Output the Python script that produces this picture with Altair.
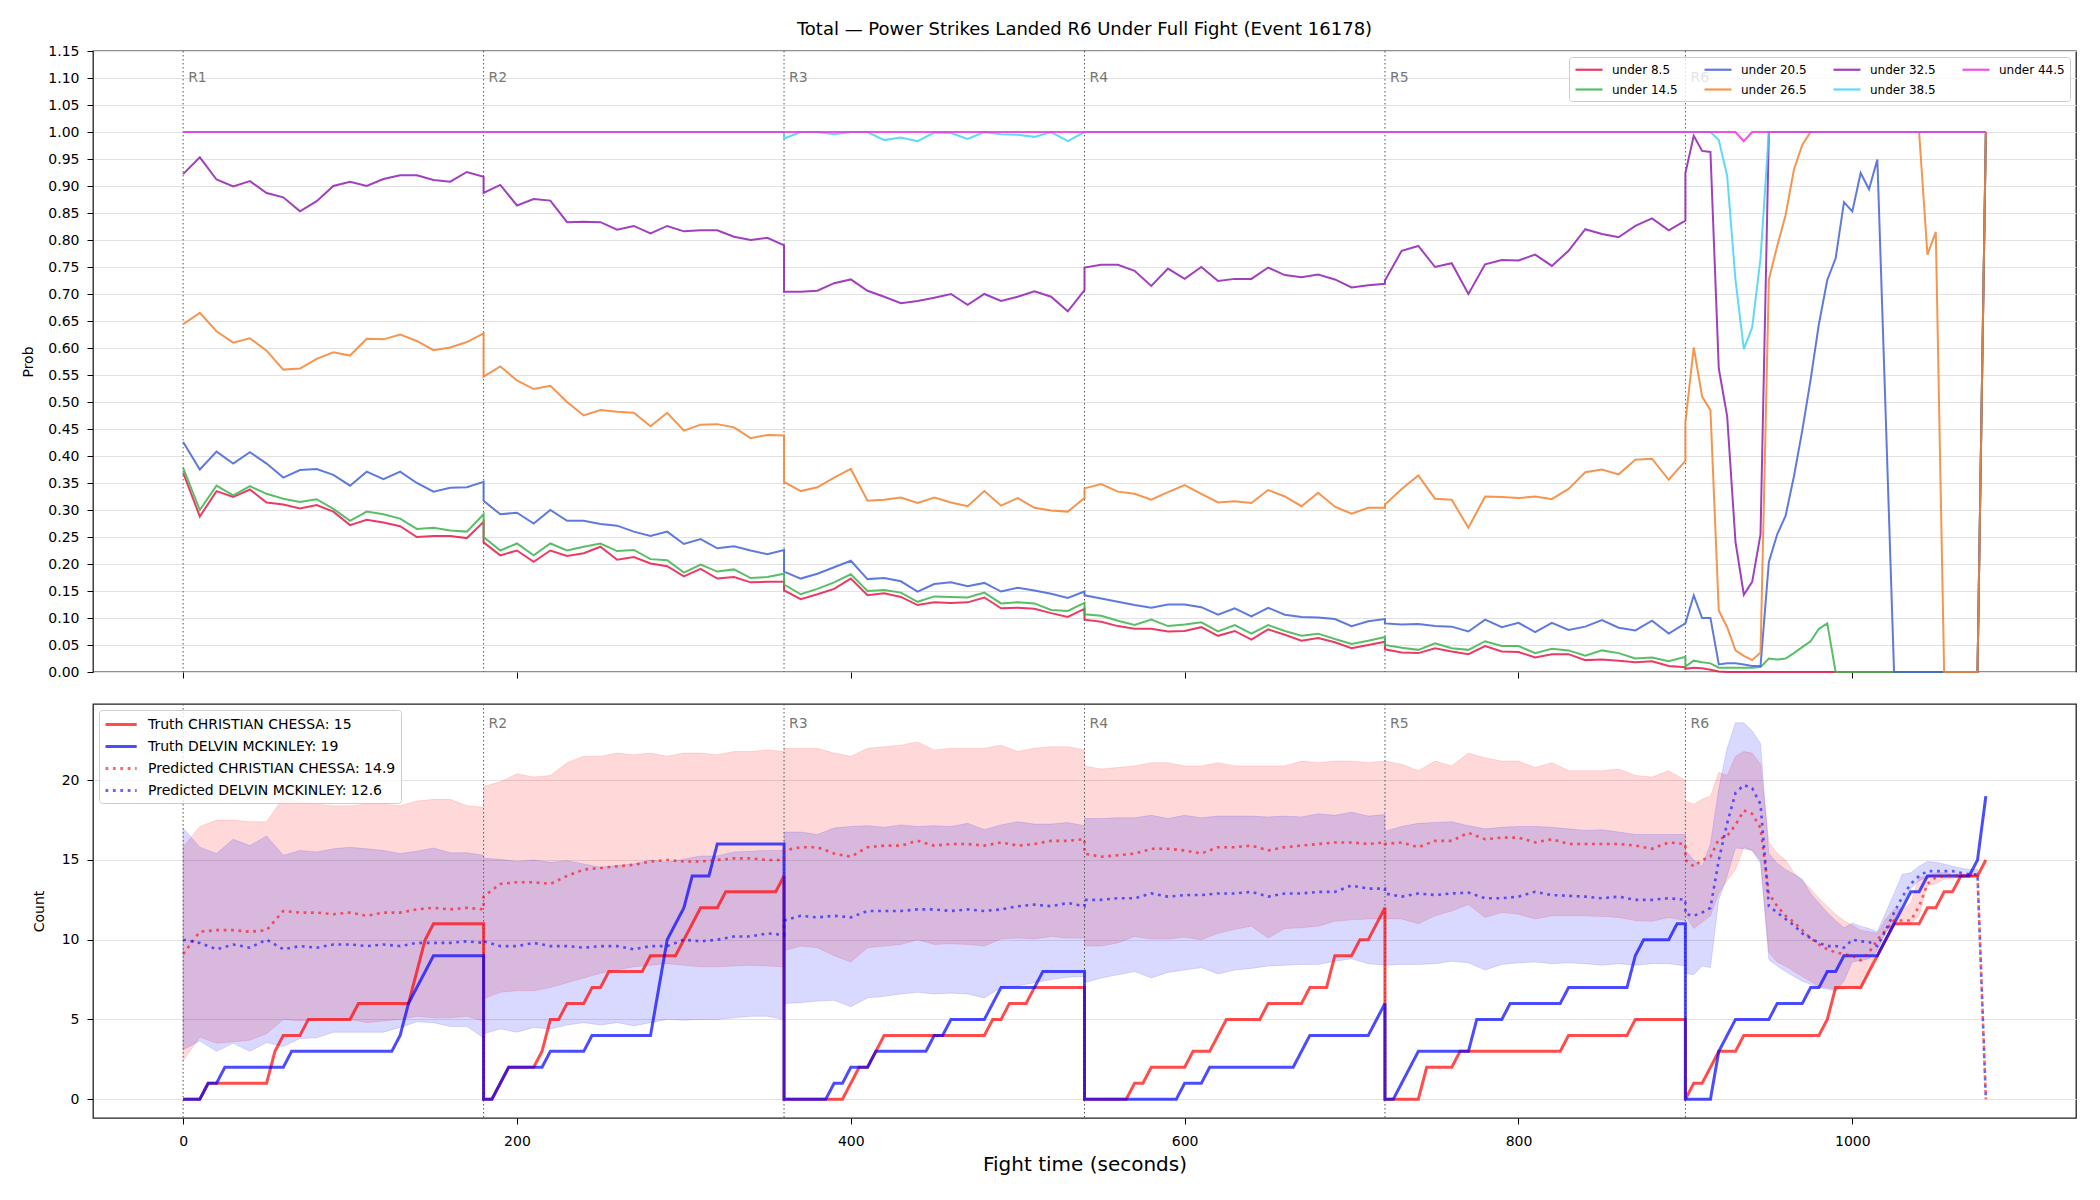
import altair as alt
import pandas as pd

TITLE = "Total \u2014 Power Strikes Landed R6 Under Full Fight (Event 16178)"
FIGHTERS = ["CHRISTIAN CHESSA", "DELVIN MCKINLEY"]
PRED_FINAL = [14.9, 12.6]

ROUND_NAMES = ["R1", "R2", "R3", "R4", "R5", "R6"]
ROUND_STARTS = [0, 180, 360, 540, 720, 900]

# sample offsets inside a round (seconds)
OFFSETS_10 = [0, 10, 20, 30, 40, 50, 60, 70, 80, 90, 100, 110, 120, 130, 140, 150, 160, 170, 180]
OFFSETS_5 = [0, 5, 10, 15, 20, 25, 30, 35, 40, 45, 50, 55, 60, 65, 70, 75, 80, 85, 90, 95, 100,
             105, 110, 115, 120, 125, 130, 135, 140, 145, 150, 155, 160, 165, 170, 175, 180]

# rounds 1-5 every 10 s, round 6 every 5 s
PROB_GRID = [OFFSETS_10] * 5 + [OFFSETS_5]
TRUTH_GRID = [OFFSETS_5] * 6
BAND_GRID = [OFFSETS_10] * 5 + [OFFSETS_5[:-1]]

PROB_TICKS = [0.0, 0.05, 0.1, 0.15, 0.2, 0.25, 0.3, 0.35, 0.4, 0.45, 0.5, 0.55, 0.6, 0.65, 0.7,
              0.75, 0.8, 0.85, 0.9, 0.95, 1.0, 1.05, 1.1, 1.15]
COUNT_TICKS = [0, 5, 10, 15, 20]
X_TICKS = [0, 200, 400, 600, 800, 1000]

# ---- P(total under line), one list per round ----
UNDER_8_5 = [
    [0.369, 0.288, 0.335, 0.324, 0.338, 0.314, 0.310, 0.303, 0.309, 0.297, 0.272, 0.282, 0.277, 0.270, 0.250, 0.252, 0.252, 0.248, 0.278],
    [0.240, 0.216, 0.225, 0.204, 0.225, 0.215, 0.220, 0.232, 0.208, 0.213, 0.201, 0.196, 0.177, 0.191, 0.173, 0.176, 0.166, 0.167, 0.167],
    [0.151, 0.135, 0.144, 0.154, 0.173, 0.142, 0.146, 0.139, 0.124, 0.129, 0.128, 0.129, 0.138, 0.118, 0.119, 0.117, 0.109, 0.102, 0.117],
    [0.097, 0.093, 0.085, 0.080, 0.080, 0.075, 0.076, 0.083, 0.067, 0.076, 0.060, 0.079, 0.069, 0.058, 0.063, 0.055, 0.044, 0.050, 0.056],
    [0.042, 0.036, 0.035, 0.044, 0.038, 0.033, 0.048, 0.038, 0.037, 0.027, 0.033, 0.033, 0.022, 0.023, 0.021, 0.018, 0.020, 0.011, 0.009],
    [0.006, 0.008, 0.007, 0.004, 0.001] + [0.0] * 31 + [1.0],
]
UNDER_14_5 = [
    [0.378, 0.300, 0.345, 0.327, 0.344, 0.330, 0.321, 0.315, 0.320, 0.302, 0.280, 0.297, 0.292, 0.284, 0.265, 0.267, 0.262, 0.260, 0.292],
    [0.250, 0.225, 0.238, 0.216, 0.238, 0.225, 0.232, 0.238, 0.224, 0.226, 0.209, 0.207, 0.184, 0.199, 0.186, 0.190, 0.174, 0.176, 0.182],
    [0.162, 0.144, 0.154, 0.166, 0.181, 0.150, 0.152, 0.147, 0.130, 0.140, 0.139, 0.138, 0.147, 0.127, 0.129, 0.127, 0.115, 0.113, 0.128],
    [0.107, 0.104, 0.095, 0.087, 0.097, 0.085, 0.088, 0.092, 0.075, 0.087, 0.071, 0.087, 0.076, 0.067, 0.071, 0.061, 0.052, 0.058, 0.065],
    [0.050, 0.045, 0.041, 0.053, 0.044, 0.041, 0.057, 0.048, 0.048, 0.035, 0.043, 0.040, 0.030, 0.040, 0.035, 0.025, 0.027, 0.020, 0.028],
    [0.010, 0.021, 0.018, 0.016, 0.008, 0.008, 0.008, 0.008, 0.008, 0.009, 0.025, 0.023, 0.025, 0.035, 0.046, 0.057, 0.080, 0.090]
    + [0.0] * 18 + [1.0],
]
UNDER_20_5 = [
    [0.426, 0.375, 0.408, 0.386, 0.407, 0.386, 0.360, 0.374, 0.376, 0.365, 0.345, 0.371, 0.357, 0.371, 0.350, 0.334, 0.341, 0.342, 0.352],
    [0.317, 0.292, 0.295, 0.275, 0.300, 0.280, 0.280, 0.274, 0.271, 0.260, 0.252, 0.260, 0.237, 0.246, 0.229, 0.233, 0.225, 0.218, 0.226],
    [0.186, 0.173, 0.182, 0.194, 0.206, 0.172, 0.174, 0.168, 0.149, 0.163, 0.166, 0.159, 0.165, 0.149, 0.156, 0.151, 0.145, 0.137, 0.149],
    [0.142, 0.136, 0.130, 0.124, 0.119, 0.125, 0.125, 0.120, 0.106, 0.118, 0.103, 0.119, 0.106, 0.102, 0.101, 0.098, 0.085, 0.094, 0.098],
    [0.090, 0.088, 0.089, 0.085, 0.084, 0.075, 0.097, 0.083, 0.091, 0.074, 0.091, 0.078, 0.084, 0.096, 0.082, 0.077, 0.095, 0.071, 0.090],
    [0.090, 0.142, 0.100, 0.100, 0.014, 0.016, 0.016, 0.014, 0.011, 0.011, 0.204, 0.255, 0.289, 0.362, 0.447, 0.541,
     0.645, 0.726, 0.766, 0.870, 0.853, 0.924, 0.894, 0.949, 0.475] + [0.0] * 11 + [1.0],
]
UNDER_26_5 = [
    [0.644, 0.665, 0.631, 0.610, 0.618, 0.595, 0.560, 0.562, 0.580, 0.592, 0.586, 0.617, 0.616, 0.625, 0.613, 0.596, 0.601, 0.611, 0.627],
    [0.547, 0.566, 0.540, 0.524, 0.530, 0.500, 0.475, 0.485, 0.482, 0.480, 0.455, 0.480, 0.447, 0.458, 0.459, 0.453, 0.433, 0.439, 0.438],
    [0.352, 0.335, 0.342, 0.360, 0.376, 0.317, 0.319, 0.323, 0.313, 0.323, 0.314, 0.307, 0.335, 0.308, 0.322, 0.304, 0.299, 0.297, 0.322],
    [0.340, 0.348, 0.334, 0.330, 0.319, 0.333, 0.346, 0.330, 0.314, 0.316, 0.313, 0.337, 0.325, 0.307, 0.332, 0.306, 0.293, 0.304, 0.304],
    [0.310, 0.339, 0.364, 0.321, 0.319, 0.267, 0.325, 0.324, 0.322, 0.325, 0.320, 0.339, 0.370, 0.375, 0.366, 0.393, 0.395, 0.356, 0.391],
    [0.463, 0.601, 0.510, 0.485, 0.114, 0.083, 0.040, 0.030, 0.022, 0.036, 0.727, 0.789, 0.846, 0.930, 0.976]
    + [1.0] * 14 + [0.773, 0.815] + [0.0] * 5 + [1.0],
]
UNDER_32_5 = [
    [0.922, 0.953, 0.912, 0.899, 0.909, 0.887, 0.879, 0.853, 0.872, 0.900, 0.908, 0.900, 0.913, 0.920, 0.920, 0.911, 0.908, 0.926, 0.917],
    [0.887, 0.902, 0.864, 0.876, 0.873, 0.833, 0.834, 0.833, 0.819, 0.826, 0.812, 0.826, 0.816, 0.818, 0.818, 0.806, 0.800, 0.804, 0.790],
    [0.704, 0.704, 0.706, 0.720, 0.727, 0.706, 0.695, 0.683, 0.687, 0.693, 0.700, 0.680, 0.700, 0.687, 0.695, 0.705, 0.695, 0.668, 0.707],
    [0.749, 0.754, 0.754, 0.743, 0.715, 0.747, 0.728, 0.750, 0.724, 0.728, 0.728, 0.749, 0.735, 0.731, 0.736, 0.727, 0.712, 0.716, 0.719],
    [0.725, 0.780, 0.789, 0.750, 0.757, 0.700, 0.755, 0.763, 0.762, 0.773, 0.752, 0.780, 0.820, 0.811, 0.805, 0.826, 0.840, 0.818, 0.836],
    [0.924, 0.993, 0.965, 0.963, 0.562, 0.474, 0.241, 0.143, 0.167, 0.255] + [1.0] * 27,
]
UNDER_38_5 = [
    [1.0] * 19,
    [1.0] * 19,
    [0.988, 1.0, 1.0, 0.996, 1.0, 1.0, 0.985, 0.990, 0.983, 0.999, 0.998, 0.987, 1.0, 0.996, 0.995, 0.991, 1.0, 0.983, 1.0],
    [1.0] * 19,
    [1.0] * 19,
    [1.0, 1.0, 1.0, 1.0, 0.985, 0.919, 0.726, 0.598, 0.638, 0.766] + [1.0] * 27,
]
UNDER_44_5 = [
    [1.0] * 19,
    [1.0] * 19,
    [1.0] * 19,
    [1.0] * 19,
    [1.0] * 19,
    [1.0] * 7 + [0.983] + [1.0] * 29,
]

THRESHOLDS = ["under 8.5", "under 14.5", "under 20.5", "under 26.5", "under 32.5", "under 38.5", "under 44.5"]
THRESHOLD_COLORS = ["#e6194b", "#3cb44b", "#4363d8", "#f58231", "#911eb4", "#42d4f4", "#f032e6"]
PROB_SERIES = [UNDER_8_5, UNDER_14_5, UNDER_20_5, UNDER_26_5, UNDER_32_5, UNDER_38_5, UNDER_44_5]

# ---- cumulative strikes per round (truth, 5 s steps) ----
TRUTH_CHESSA = [
    [0, 0, 0, 1, 1, 1, 1, 1, 1, 1, 1, 3, 4, 4, 4, 5, 5, 5, 5, 5, 5, 6, 6, 6, 6, 6, 6, 6, 8, 10, 11, 11, 11, 11, 11, 11, 11],
    [0, 0, 1, 2, 2, 2, 2, 3, 5, 5, 6, 6, 6, 7, 7, 8, 8, 8, 8, 8, 9, 9, 9, 9, 10, 11, 12, 12, 12, 13, 13, 13, 13, 13, 13, 13, 14],
    [0, 0, 0, 0, 0, 0, 0, 0, 1, 2, 2, 3, 4, 4, 4, 4, 4, 4, 4, 4, 4, 4, 4, 4, 4, 5, 5, 6, 6, 6, 7, 7, 7, 7, 7, 7, 7],
    [0, 0, 0, 0, 0, 0, 1, 1, 2, 2, 2, 2, 2, 3, 3, 3, 4, 5, 5, 5, 5, 5, 6, 6, 6, 6, 6, 7, 7, 7, 9, 9, 9, 10, 10, 11, 12],
    [0, 0, 0, 0, 0, 2, 2, 2, 2, 3, 3, 3, 3, 3, 3, 3, 3, 3, 3, 3, 3, 3, 4, 4, 4, 4, 4, 4, 4, 4, 5, 5, 5, 5, 5, 5, 5],
    [0, 1, 1, 2, 3, 3, 3, 4, 4, 4, 4, 4, 4, 4, 4, 4, 4, 5, 7, 7, 7, 7, 8, 9, 10, 11, 11, 11, 11, 12, 12, 13, 13, 14, 14, 14, 15],
]
TRUTH_MCKINLEY = [
    [0, 0, 0, 1, 1, 2, 2, 2, 2, 2, 2, 2, 2, 3, 3, 3, 3, 3, 3, 3, 3, 3, 3, 3, 3, 3, 4, 6, 7, 8, 9, 9, 9, 9, 9, 9, 9],
    [0, 0, 1, 2, 2, 2, 2, 2, 3, 3, 3, 3, 3, 4, 4, 4, 4, 4, 4, 4, 4, 7, 10, 11, 12, 14, 14, 14, 16, 16, 16, 16, 16, 16, 16, 16, 16],
    [0, 0, 0, 0, 0, 0, 1, 1, 2, 2, 2, 3, 3, 3, 3, 3, 3, 3, 4, 4, 5, 5, 5, 5, 5, 6, 7, 7, 7, 7, 7, 8, 8, 8, 8, 8, 8],
    [0, 0, 0, 0, 0, 0, 0, 0, 0, 0, 0, 0, 1, 1, 1, 2, 2, 2, 2, 2, 2, 2, 2, 2, 2, 2, 3, 4, 4, 4, 4, 4, 4, 4, 4, 5, 6],
    [0, 0, 1, 2, 3, 3, 3, 3, 3, 3, 3, 5, 5, 5, 5, 6, 6, 6, 6, 6, 6, 6, 7, 7, 7, 7, 7, 7, 7, 7, 9, 10, 10, 10, 10, 11, 11],
    [0, 0, 0, 0, 3, 4, 5, 5, 5, 5, 5, 6, 6, 6, 6, 7, 7, 8, 8, 9, 9, 9, 9, 9, 10, 11, 12, 13, 13, 14, 14, 14, 14, 14, 14, 15, 19],
]

# ---- predicted final counts ----
PRED_CHESSA = [
    [9.1, 10.5, 10.6, 10.6, 10.5, 10.6, 11.8, 11.7, 11.7, 11.6, 11.7, 11.5, 11.7, 11.7, 11.9, 12.0, 11.9, 12.0, 11.9],
    [12.7, 13.5, 13.6, 13.6, 13.5, 14.0, 14.4, 14.5, 14.6, 14.7, 14.9, 15.0, 14.9, 14.9, 15.0, 15.1, 15.1, 15.0, 15.0],
    [15.6, 15.8, 15.8, 15.4, 15.2, 15.8, 15.9, 15.9, 16.2, 15.9, 16.0, 16.0, 15.9, 16.1, 15.9, 16.0, 16.2, 16.2, 16.3],
    [15.4, 15.2, 15.3, 15.4, 15.7, 15.7, 15.6, 15.4, 15.8, 15.8, 15.9, 15.6, 15.8, 15.9, 16.0, 16.1, 16.1, 16.0, 16.1],
    [16.0, 16.1, 15.8, 16.2, 16.2, 16.7, 16.3, 16.4, 16.4, 16.1, 16.3, 16.0, 16.0, 16.0, 16.0, 15.9, 15.7, 16.1, 16.0],
    [15.0, 14.6, 15.0, 15.2, 16.3, 16.5, 17.2, 18.1, 17.9, 17.0, 12.9, 12.1, 11.5, 11.1, 10.6, 10.1, 9.7, 9.4, 9.2,
     9.1, 9.0, 8.7, 9.2, 10.0, 10.6, 11.2, 11.2, 11.2, 12.1, 13.5, 13.9, 14.0, 14.0, 14.0, 14.0, 14.0, 0.0],
]
PRED_MCKINLEY = [
    [10.0, 9.8, 9.4, 9.7, 9.5, 10.0, 9.4, 9.6, 9.5, 9.7, 9.7, 9.6, 9.7, 9.6, 9.8, 9.8, 9.8, 9.9, 9.8],
    [9.9, 9.6, 9.6, 9.8, 9.6, 9.6, 9.5, 9.6, 9.6, 9.4, 9.6, 9.6, 10.0, 9.9, 10.0, 10.2, 10.2, 10.4, 10.3],
    [11.2, 11.5, 11.4, 11.5, 11.4, 11.8, 11.8, 11.8, 11.9, 11.9, 11.8, 11.9, 11.8, 11.9, 12.1, 12.2, 12.1, 12.3, 12.1],
    [12.5, 12.5, 12.6, 12.6, 12.9, 12.7, 12.8, 12.8, 12.9, 12.9, 13.0, 12.7, 12.9, 12.9, 13.0, 13.0, 13.4, 13.2, 13.2],
    [12.9, 12.7, 12.9, 12.8, 12.9, 12.95, 12.6, 12.6, 12.7, 13.0, 12.8, 12.75, 12.7, 12.6, 12.7, 12.5, 12.5, 12.6, 12.5],
    [11.6, 11.5, 11.7, 12.0, 15.0, 17.3, 19.2, 19.7, 19.5, 18.5, 12.1, 11.7, 11.3, 10.9, 10.4, 10.1, 9.8, 9.6, 9.6,
     9.5, 10.0, 9.9, 9.85, 9.6, 10.6, 11.7, 12.7, 13.5, 14.0, 14.3, 14.3, 14.3, 14.3, 14.2, 14.1, 14.1, 0.0],
]

# ---- prediction intervals ----
BAND_CHESSA_HI = [
    [15.8, 17.1, 17.5, 17.5, 17.4, 17.4, 18.9, 18.7, 18.5, 18.4, 18.4, 18.5, 18.5, 18.4, 18.7, 18.8, 18.8, 18.4, 18.3],
    [19.6, 19.9, 20.4, 20.2, 20.3, 21.1, 21.5, 21.5, 21.7, 21.6, 21.7, 21.5, 21.7, 21.7, 21.6, 21.8, 21.8, 21.9, 21.8],
    [22.0, 22.0, 22.0, 21.7, 21.5, 22.0, 22.1, 22.2, 22.4, 21.9, 22.0, 22.0, 22.0, 22.2, 21.8, 22.0, 22.1, 22.1, 21.9],
    [20.9, 20.7, 20.8, 20.9, 21.1, 21.1, 20.9, 20.9, 21.1, 20.9, 20.9, 20.9, 20.9, 21.2, 21.1, 21.2, 21.2, 21.1, 21.2],
    [21.2, 21.0, 20.6, 21.2, 20.9, 21.7, 21.4, 21.2, 21.2, 20.8, 21.1, 20.6, 20.6, 20.6, 20.7, 20.3, 20.2, 20.6, 20.0],
    [18.7, 18.5, 18.8, 19.0, 20.5, 20.3, 21.5, 21.8, 21.7, 21.0, 16.1, 15.4, 15.0, 14.2, 13.7, 13.2, 12.6, 12.1,
     11.6, 11.2, 10.9, 10.6, 10.5, 10.4, 11.3, 11.9, 11.9, 12.3, 13.9, 14.0, 14.2, 14.2, 14.1, 14.1, 14.0, 14.1],
]
BAND_CHESSA_LO = [
    [2.4, 3.9, 3.5, 3.6, 3.7, 4.1, 5.0, 4.9, 5.0, 5.0, 5.0, 4.8, 4.9, 5.0, 5.2, 5.1, 5.1, 5.2, 4.9],
    [6.3, 6.7, 6.8, 6.8, 7.0, 7.3, 7.6, 7.9, 8.1, 8.3, 8.4, 8.5, 8.4, 8.3, 8.3, 8.35, 8.4, 8.35, 8.3],
    [9.3, 9.6, 9.5, 9.0, 8.6, 9.5, 9.6, 9.7, 10.0, 9.7, 9.75, 9.7, 9.6, 10.05, 10.1, 10.05, 10.2, 10.1, 10.1],
    [9.6, 9.6, 9.8, 10.2, 10.05, 10.05, 10.15, 10.0, 10.4, 10.65, 10.85, 10.1, 10.7, 10.75, 10.85, 11.15, 11.25, 11.3, 11.3],
    [11.3, 11.3, 11.0, 11.5, 11.8, 12.2, 11.4, 11.7, 11.6, 11.3, 11.5, 11.5, 11.5, 11.45, 11.4, 11.2, 11.15, 11.4, 11.2],
    [11.5, 10.7, 11.1, 11.5, 12.9, 13.7, 14.4, 15.8, 15.6, 15.0, 9.2, 8.6, 8.35, 8.0, 7.7, 7.4, 7.05, 7.0,
     6.9, 6.9, 7.05, 6.9, 8.1, 9.4, 10.5, 10.9, 11.0, 11.0, 11.5, 13.4, 13.5, 13.8, 13.85, 13.9, 14.0, 14.0],
]
BAND_MCKINLEY_HI = [
    [17.0, 15.8, 15.4, 16.3, 15.9, 16.5, 15.3, 15.6, 15.5, 15.7, 15.8, 15.7, 15.6, 15.4, 15.55, 15.75, 15.45, 15.45, 15.3],
    [15.1, 15.05, 14.9, 15.0, 14.85, 14.95, 14.75, 14.55, 14.65, 14.75, 15.0, 14.85, 15.05, 15.25, 15.25, 15.5, 15.55, 15.6, 15.6],
    [16.75, 16.75, 16.6, 17.0, 17.1, 17.15, 17.05, 17.2, 17.1, 17.15, 17.1, 17.3, 16.9, 17.2, 17.4, 17.25, 17.25, 17.35, 17.15],
    [17.6, 17.6, 17.65, 17.65, 17.8, 17.6, 17.8, 17.65, 17.75, 17.75, 17.75, 17.7, 17.75, 17.7, 17.9, 17.8, 18.0, 17.75, 17.85],
    [16.8, 17.1, 17.3, 17.35, 17.4, 17.15, 16.95, 17.05, 17.1, 17.1, 17.05, 16.95, 16.85, 16.9, 16.75, 16.6, 16.6, 16.6, 16.6],
    [15.6, 15.0, 14.6, 16.0, 19.5, 22.0, 23.6, 23.6, 23.1, 22.3, 15.4, 14.8, 14.4, 14.1, 13.8, 12.9, 12.3, 11.7,
     11.2, 10.75, 11.05, 10.85, 10.7, 10.5, 11.7, 12.9, 14.1, 14.2, 14.6, 14.9, 14.85, 14.75, 14.6, 14.5, 14.4, 14.4],
]
BAND_MCKINLEY_LO = [
    [3.1, 3.65, 3.0, 3.5, 3.0, 3.55, 3.3, 3.8, 3.85, 4.2, 4.2, 4.2, 4.2, 4.5, 4.85, 4.8, 4.55, 4.55, 3.85],
    [4.1, 4.4, 4.2, 4.5, 4.4, 4.65, 4.8, 4.65, 4.8, 4.6, 4.8, 5.0, 4.95, 5.0, 5.0, 5.1, 5.2, 5.2, 5.0],
    [6.0, 6.05, 6.15, 6.2, 5.8, 6.35, 6.45, 6.6, 6.7, 6.6, 6.65, 6.6, 6.35, 7.0, 7.1, 7.3, 7.5, 7.65, 7.7],
    [7.3, 7.6, 7.8, 8.0, 7.6, 7.95, 8.1, 8.25, 7.85, 8.1, 8.2, 8.35, 8.4, 8.45, 8.45, 8.65, 8.8, 8.5, 8.4],
    [8.4, 8.45, 8.45, 8.5, 8.65, 8.55, 8.1, 8.45, 8.55, 8.6, 8.5, 8.55, 8.5, 8.4, 8.5, 8.4, 8.5, 8.5, 8.35],
    [7.9, 7.8, 8.35, 8.25, 12.5, 14.0, 15.75, 15.7, 15.6, 14.8, 8.75, 8.35, 8.0, 7.7, 7.4, 7.2, 7.0, 6.9,
     6.8, 7.4, 8.6, 8.7, 8.8, 9.3, 10.4, 11.2, 12.3, 13.2, 13.7, 13.9, 14.0, 14.0, 14.0, 14.0, 14.0, 14.0],
]


def expand(per_round, grid):
    """Turn per-round lists into (time, value) sequences on the fight clock."""
    times, values = [], []
    for start, offs, vals in zip(ROUND_STARTS, grid, per_round):
        assert len(offs) == len(vals), (start, len(offs), len(vals))
        times += [start + o for o in offs]
        values += list(vals)
    return times, values


# ---------- tables ----------
prob_rows = []
for name, per_round in zip(THRESHOLDS, PROB_SERIES):
    ts, vs = expand(per_round, PROB_GRID)
    for i, (t, v) in enumerate(zip(ts, vs)):
        prob_rows.append({"threshold": name, "t": t, "p": v, "idx": i})
prob_df = pd.DataFrame(prob_rows)

SERIES = [
    f"Truth {FIGHTERS[0]}: {TRUTH_CHESSA[-1][-1]}",
    f"Truth {FIGHTERS[1]}: {TRUTH_MCKINLEY[-1][-1]}",
    f"Predicted {FIGHTERS[0]}: {PRED_FINAL[0]}",
    f"Predicted {FIGHTERS[1]}: {PRED_FINAL[1]}",
]

truth_rows = []
for label, per_round in zip(SERIES[:2], [TRUTH_CHESSA, TRUTH_MCKINLEY]):
    ts, vs = expand(per_round, TRUTH_GRID)
    for i, (t, v) in enumerate(zip(ts, vs)):
        truth_rows.append({"series": label, "t": t, "count": v, "idx": i})
truth_df = pd.DataFrame(truth_rows)

pred_rows = []
for label, per_round in zip(SERIES[2:], [PRED_CHESSA, PRED_MCKINLEY]):
    ts, vs = expand(per_round, PROB_GRID)
    for i, (t, v) in enumerate(zip(ts, vs)):
        pred_rows.append({"series": label, "t": t, "count": v, "idx": i})
pred_df = pd.DataFrame(pred_rows)

band_rows = []
for fighter, lo_r, hi_r in [(FIGHTERS[0], BAND_CHESSA_LO, BAND_CHESSA_HI),
                            (FIGHTERS[1], BAND_MCKINLEY_LO, BAND_MCKINLEY_HI)]:
    ts, los = expand(lo_r, BAND_GRID)
    _, his = expand(hi_r, BAND_GRID)
    for i, (t, lo, hi) in enumerate(zip(ts, los, his)):
        band_rows.append({"fighter": fighter, "t": t, "lo": lo, "hi": hi, "idx": i})
band_df = pd.DataFrame(band_rows)

rounds_df = pd.DataFrame({"t": ROUND_STARTS, "name": ROUND_NAMES})

# ---------- shared scales / axes ----------
FONT = "DejaVu Sans"
x_scale = alt.Scale(domain=[-54, 1134], nice=False, zero=False)
GRID_COLOR = "#e2e2e2"

top_x = alt.X("t:Q", scale=x_scale,
              axis=alt.Axis(values=X_TICKS, labels=False, title=None, grid=False, domain=False,
                            tickSize=6, tickColor="#000"))
top_y = alt.Y("p:Q", scale=alt.Scale(domain=[0, 1.15], nice=False, zero=False),
              axis=alt.Axis(values=PROB_TICKS, format=".2f", title="Prob", grid=True, gridColor=GRID_COLOR,
                            domain=False, tickSize=6, labelPadding=8, minExtent=46, maxExtent=46,
                            titlePadding=12, titleFontWeight="normal", titleFontSize=14, labelFontSize=14))

bot_x = alt.X("t:Q", scale=x_scale,
              axis=alt.Axis(values=X_TICKS, format="d", title="Fight time (seconds)", grid=False,
                            domain=False, tickSize=6, tickColor="#000", labelFontSize=14, titleFontSize=20,
                            titleFontWeight="normal", labelPadding=10, titlePadding=6))
bot_y_scale = alt.Scale(domain=[-1.18, 24.78], nice=False, zero=False)
bot_y_axis = alt.Axis(values=COUNT_TICKS, title="Count", grid=True, gridColor=GRID_COLOR, domain=False,
                      tickSize=6, labelPadding=8, minExtent=46, maxExtent=46, titlePadding=1,
                      titleFontWeight="normal", titleFontSize=14, labelFontSize=14)

# ---------- top panel: probability of finishing under each line ----------
color_scale = alt.Scale(domain=THRESHOLDS, range=THRESHOLD_COLORS)
# short horizontal stroke used as the legend key
thr_legend = alt.Legend(title=None, orient="top-right", columns=4, symbolType="M-1,0L3.5,0", symbolSize=144,
                        symbolStrokeWidth=2.2, symbolOpacity=0.85, labelFontSize=12, labelFont=FONT,
                        fillColor="rgba(255,255,255,0.8)", strokeColor="#cccccc", padding=5,
                        cornerRadius=3, offset=6, columnPadding=22, rowPadding=6, labelOffset=23)

round_rule_top = alt.Chart(rounds_df).mark_rule(color="#555555", strokeDash=[1.5, 2.5], strokeWidth=1).encode(x=top_x)
round_text_top = alt.Chart(rounds_df).mark_text(align="left", baseline="middle", dx=5, fontSize=14,
                                                 color="#777777", font=FONT).encode(
    x=top_x, y=alt.value(27), text="name:N")

prob_lines = [
    alt.Chart(prob_df).transform_filter(alt.datum.threshold == name)
    .mark_line(strokeWidth=2, opacity=0.85)
    .encode(x=top_x, y=top_y, color=alt.Color("threshold:N", scale=color_scale, legend=thr_legend),
            order="idx:Q")
    for name in THRESHOLDS
]

top = alt.layer(round_rule_top, *prob_lines, round_text_top).properties(
    width=1983, height=621,
    title=alt.TitleParams(TITLE, fontSize=18, fontWeight="normal", anchor="middle", frame="group",
                          offset=5, font=FONT),
)

# ---------- bottom panel: counts ----------
series_color = alt.Scale(domain=SERIES, range=["rgba(255,0,0,0.7)", "rgba(0,0,255,0.7)",
                                               "rgba(255,0,0,0.6)", "rgba(0,0,255,0.6)"])
series_dash = alt.Scale(domain=SERIES, range=[[1, 0], [1, 0], [2.8, 4.6], [2.8, 4.6]])
series_legend = alt.Legend(title=None, orient="top-left", symbolType="M-1,0L2.9,0", symbolSize=256,
                           symbolStrokeWidth=3, labelFontSize=14, labelFont=FONT,
                           fillColor="rgba(255,255,255,0.8)", strokeColor="#cccccc", padding=5,
                           cornerRadius=3, offset=6, rowPadding=5, labelOffset=25, labelLimit=400)

bands = [
    alt.Chart(band_df).transform_filter(alt.datum.fighter == fighter)
    .mark_area(fill=col, fillOpacity=0.15, stroke=col, strokeOpacity=0.12, strokeWidth=1)
    .encode(x=bot_x, y=alt.Y("lo:Q", scale=bot_y_scale, axis=bot_y_axis), y2="hi:Q")
    for fighter, col in [(FIGHTERS[0], "#ff0000"), (FIGHTERS[1], "#0000ff")]
]

round_rule_bot = alt.Chart(rounds_df).mark_rule(color="#555555", strokeDash=[1.5, 2.5], strokeWidth=1).encode(x=bot_x)
round_text_bot = alt.Chart(rounds_df).mark_text(align="left", baseline="middle", dx=5, fontSize=14,
                                                 color="#777777", font=FONT).encode(
    x=bot_x, y=alt.value(20), text="name:N")

truth_lines = alt.Chart(truth_df).mark_line(strokeWidth=3).encode(
    x=bot_x,
    y=alt.Y("count:Q", scale=bot_y_scale, axis=bot_y_axis),
    color=alt.Color("series:N", scale=series_color, legend=series_legend),
    strokeDash=alt.StrokeDash("series:N", scale=series_dash, legend=series_legend),
    order="idx:Q",
)
pred_lines = alt.Chart(pred_df).mark_line(strokeWidth=2.6).encode(
    x=bot_x,
    y=alt.Y("count:Q", scale=bot_y_scale, axis=bot_y_axis),
    color=alt.Color("series:N", scale=series_color, legend=series_legend),
    strokeDash=alt.StrokeDash("series:N", scale=series_dash, legend=series_legend),
    order="idx:Q",
)

bottom = alt.layer(*bands, round_rule_bot, truth_lines, pred_lines, round_text_bot).properties(
    width=1983, height=414)

chart = (
    alt.vconcat(top, bottom, spacing=22)
    .resolve_scale(color="independent", strokeDash="independent", y="independent")
    .resolve_legend(color="independent", strokeDash="independent")
    .properties(padding={"left": 20, "top": 20, "right": 23, "bottom": 20}, background="white")
    .configure(font=FONT)
    .configure_view(stroke="#222222", strokeWidth=1.3)
    .configure_axis(labelColor="#000", titleColor="#000", tickColor="#000", labelFont=FONT, titleFont=FONT)
)

chart.save("out.html", embed_options={"renderer": "svg", "actions": False})
